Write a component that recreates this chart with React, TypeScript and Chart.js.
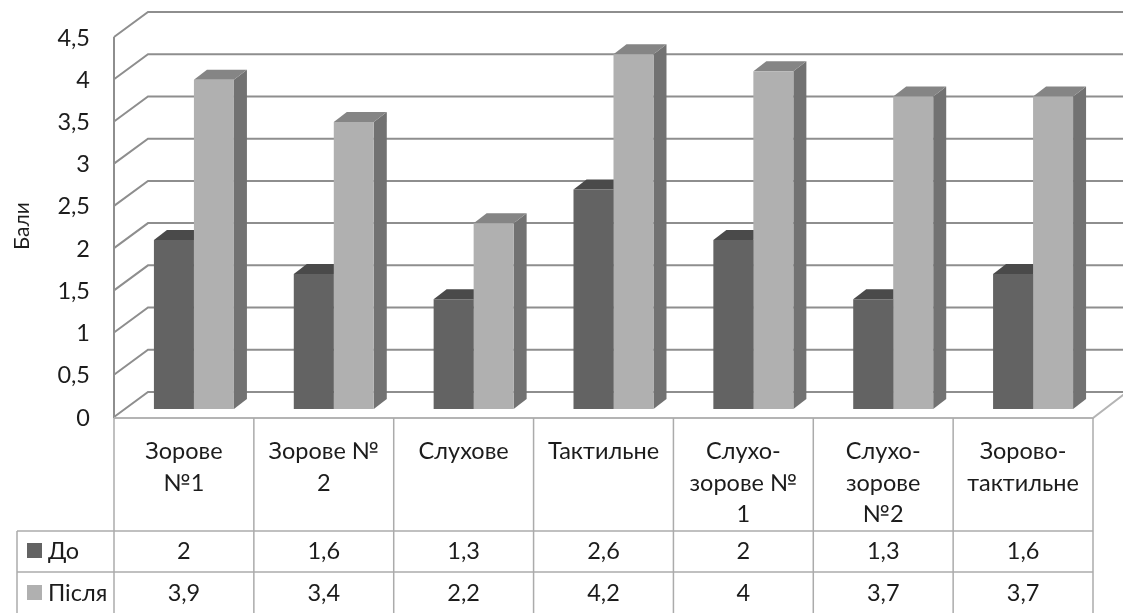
import React, { useEffect, useRef } from "react";
import { Chart, registerables } from "chart.js";

Chart.register(...registerables);

const categories: (string | string[])[] = [
  ["Зорове", "№1"],
  ["Зорове №", "2"],
  ["Слухове"],
  ["Тактильне"],
  ["Слухо-", "зорове №", "1"],
  ["Слухо-", "зорове", "№2"],
  ["Зорово-", "тактильне"],
];
const before = [2, 1.6, 1.3, 2.6, 2, 1.3, 1.6];
const after = [3.9, 3.4, 2.2, 4.2, 4, 3.7, 3.7];
const seriesNames = ["До", "Після"];
const yTitle = "Бали";

const FONT = "Lato, 'Open Sans', sans-serif";
const FONT_SIZE = 23.5;
const TEXT = "#1c1c1c";
const faces = [
  { front: "#636363", top: "#4a4a4a", side: "#4a4a4a" },
  { front: "#b0b0b0", top: "#858585", side: "#727272" },
];
const comma = (v: number) => String(v).replace(".", ",");

const threeD = {
  id: "threeD",
  beforeDatasetsDraw(chart: any) {
    const { ctx, scales } = chart;
    const y = scales.y;
    const x = scales.x;
    const left = 114;
    const right = x.right - 10;
    const wallDx = 34;
    const frontDy = 8;
    const backDy = -17;
    const cw = chart.width;
    ctx.save();
    // walls
    ctx.strokeStyle = "#8e8e8e";
    ctx.lineWidth = 2;
    y.ticks.forEach((t: any) => {
      const p = y.getPixelForValue(t.value);
      ctx.beginPath();
      ctx.moveTo(left, p + frontDy);
      ctx.lineTo(left + wallDx, p + backDy);
      ctx.lineTo(cw, p + backDy);
      ctx.stroke();
    });
    ctx.beginPath();
    ctx.moveTo(left, y.getPixelForValue(4.5) + frontDy);
    ctx.lineTo(left, y.getPixelForValue(0) + frontDy + 1);
    ctx.stroke();
    // floor
    const fp = y.getPixelForValue(0);
    ctx.strokeStyle = "#b4b4b4";
    ctx.beginPath();
    ctx.moveTo(left, fp + frontDy + 1);
    ctx.lineTo(right, fp + frontDy + 1);
    ctx.lineTo(right + wallDx, fp + backDy);
    ctx.stroke();
    // bar depth faces
    const dx = 13;
    const dy = 10;
    chart.data.datasets.forEach((_: any, di: number) => {
      chart.getDatasetMeta(di).data.forEach((b: any) => {
        const r = b.x + b.width / 2;
        const l = b.x - b.width / 2;
        ctx.fillStyle = faces[di].side;
        ctx.beginPath();
        ctx.moveTo(r, b.y);
        ctx.lineTo(r + dx, b.y - dy);
        ctx.lineTo(r + dx, b.base - dy);
        ctx.lineTo(r, b.base);
        ctx.closePath();
        ctx.fill();
        ctx.fillStyle = faces[di].top;
        ctx.beginPath();
        ctx.moveTo(l, b.y);
        ctx.lineTo(l + dx, b.y - dy);
        ctx.lineTo(r + dx, b.y - dy);
        ctx.lineTo(r, b.y);
        ctx.closePath();
        ctx.fill();
      });
    });
    ctx.restore();
  },
  afterDraw(chart: any) {
    const { ctx, scales } = chart;
    const x = scales.x;
    const left = 114;
    const right = x.right - 10;
    const tableTop = 418;
    const row1 = 531;
    const row2 = 572;
    const bottom = chart.height;
    const band = (right - left) / categories.length;
    ctx.save();
    ctx.strokeStyle = "#ababab";
    ctx.lineWidth = 1.5;
    for (let i = 0; i <= categories.length; i++) {
      const vx = left + band * i;
      ctx.beginPath();
      ctx.moveTo(vx, tableTop);
      ctx.lineTo(vx, bottom);
      ctx.stroke();
    }
    [row1, row2].forEach((ry) => {
      ctx.beginPath();
      ctx.moveTo(17, ry);
      ctx.lineTo(right, ry);
      ctx.stroke();
    });
    ctx.beginPath();
    ctx.moveTo(17, row1);
    ctx.lineTo(17, bottom);
    ctx.stroke();

    ctx.font = `${FONT_SIZE}px ${FONT}`;
    ctx.fillStyle = TEXT;
    ctx.textBaseline = "middle";
    const rowsY = [551, 593];
    chart.data.datasets.forEach((ds: any, di: number) => {
      ctx.fillStyle = ds.backgroundColor;
      ctx.fillRect(27, rowsY[di] - 8, 15, 15);
      ctx.fillStyle = TEXT;
      ctx.textAlign = "left";
      ctx.fillText(ds.label, 48, rowsY[di]);
      ctx.textAlign = "center";
      ds.data.forEach((v: number, i: number) => {
        ctx.fillText(comma(v), x.getPixelForValue(i) - 10, rowsY[di]);
      });
    });
    // axis title
    ctx.translate(22, 226);
    ctx.rotate(-Math.PI / 2);
    ctx.textAlign = "center";
    ctx.font = `21px ${FONT}`;
    ctx.fillText(yTitle, 0, 0);
    ctx.restore();
  },
};

export default function App() {
  const ref = useRef<HTMLCanvasElement | null>(null);
  useEffect(() => {
    document.body.style.margin = "0";
    const chart = new Chart(ref.current as HTMLCanvasElement, {
      type: "bar",
      data: {
        labels: categories as any,
        datasets: [
          { label: seriesNames[0], data: before, backgroundColor: faces[0].front, categoryPercentage: 0.572, barPercentage: 1 },
          { label: seriesNames[1], data: after, backgroundColor: faces[1].front, categoryPercentage: 0.572, barPercentage: 1 },
        ],
      },
      plugins: [threeD],
      options: {
        animation: false,
        responsive: false,
        layout: { autoPadding: false, padding: { top: 29, right: 20, bottom: 0, left: 0 } },
        plugins: { legend: { display: false }, tooltip: { enabled: false } },
        scales: {
          x: {
            grid: { display: false, drawTicks: false },
            border: { display: false },
            afterFit: (s: any) => { s.height = 204; s.paddingLeft = 0; s.paddingRight = 0; },
            ticks: {
              autoSkip: false,
              maxRotation: 0,
              minRotation: 0,
              padding: 26,
              labelOffset: -10,
              color: TEXT,
              font: { family: FONT, size: FONT_SIZE, lineHeight: 1.36 },
            },
          },
          y: {
            min: 0,
            max: 4.5,
            grid: { display: false, drawTicks: false },
            border: { display: false },
            afterFit: (s: any) => { s.width = 124; s.paddingTop = 0; s.paddingBottom = 0; },
            ticks: {
              stepSize: 0.5,
              padding: 34,
              labelOffset: 9,
              color: TEXT,
              font: { family: FONT, size: FONT_SIZE },
              callback: (v: any) => comma(Number(v)),
            },
          },
        },
      },
    } as any);
    console.log(chart.chartArea);
    return () => chart.destroy();
  }, []);
  return <canvas ref={ref} width={1123} height={613} style={{ display: "block" }} />;
}
